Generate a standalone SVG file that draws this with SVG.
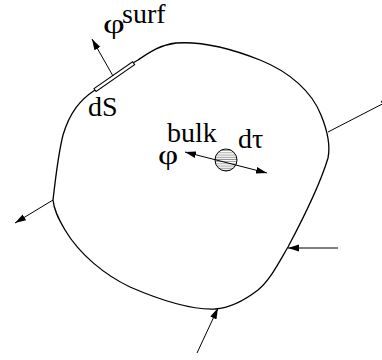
<svg xmlns="http://www.w3.org/2000/svg" width="382" height="360" viewBox="0 0 382 360">
<style>
.ln{fill:none;stroke:#000;stroke-width:1.3}
.ar{fill:none;stroke:#000;stroke-width:1;marker-end:url(#ah)}
.t{font-family:"Liberation Serif","Times New Roman",serif;font-size:28px;fill:#000}
</style>
<defs>
<marker id="ah" markerUnits="userSpaceOnUse" markerWidth="12" markerHeight="8" refX="11" refY="4" orient="auto-start-reverse">
<path d="M0,0.6 L11,4 L0,7.4 z" fill="#000"/>
</marker>
<pattern id="hatch" patternUnits="userSpaceOnUse" width="4" height="2.2">
<rect width="4" height="2.2" fill="#fff"/>
<line x1="0" y1="1" x2="4" y2="1" stroke="#888" stroke-width="0.8"/>
</pattern>
</defs>
<g id="region">
<path class="ln" d="M53,200 C56,175 58,155 63,135 C70,112 80,100 95,90 C110,80 120,70 138,60 C150,52 160,45 176,43 C205,41 235,50 260,60 C290,72 312,92 321,115 C328,132 330,148 328,158 C320,185 305,215 288,247 C278,264 270,280 258,290 C245,300 230,308 215,309 C190,310 160,300 130,287 C105,275 80,255 65,230 C58,218 54,210 53,200 Z"/>
</g>
<g id="dS">
<rect x="0" y="-1.8" width="47" height="3.6" fill="#fff" stroke="#000" stroke-width="1" transform="translate(95,90) rotate(-34.7)"/>
<text class="t" x="88" y="116">dS</text>
</g>
<g id="dtau">
<circle cx="226" cy="160" r="11" fill="url(#hatch)" stroke="#000" stroke-width="1"/>
<text class="t" x="238" y="148">dτ</text>
</g>
<g id="labels">
<text class="t" transform="translate(103,33) scale(1.35,1)">φ</text>
<text class="t" x="122" y="23">surf</text>
<text class="t" transform="translate(158,164) scale(1.25,1)">φ</text>
<text class="t" x="167" y="142">bulk</text>
</g>
<g id="connectors">
<line class="ar" x1="113" y1="76" x2="92" y2="39"/>
<line class="ar" x1="53" y1="200" x2="15" y2="223"/>
<line class="ar" x1="328" y1="132" x2="392" y2="99"/>
<line class="ar" x1="338" y1="248" x2="288" y2="248"/>
<line class="ar" x1="197" y1="353" x2="218" y2="308"/>
<line class="ar" x1="185" y1="152" x2="267" y2="173" style="marker-start:url(#ah)"/>
</g>
</svg>
